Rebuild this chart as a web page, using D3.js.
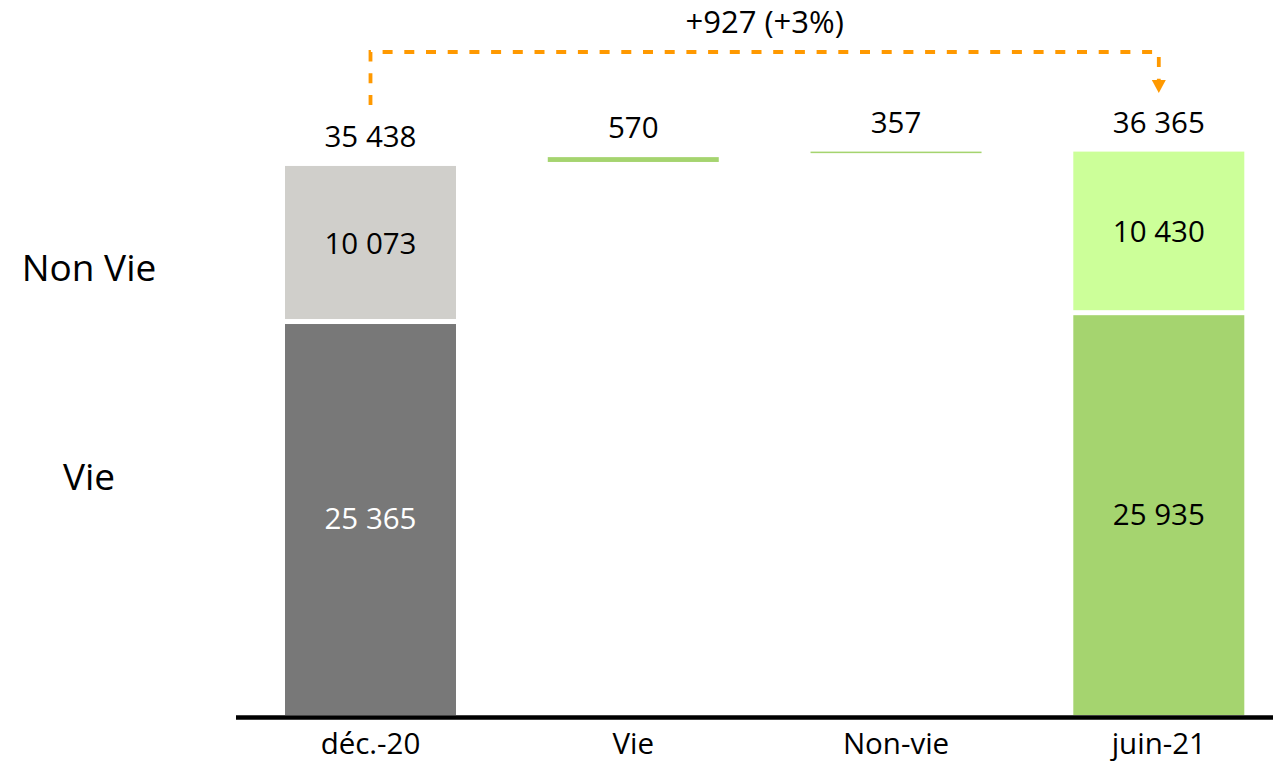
<!DOCTYPE html>
<html><head><meta charset="utf-8">
<script src="https://cdn.jsdelivr.net/npm/d3@7"></script>
<style>body{margin:0;background:#fff}svg{display:block}text{font-family:"Open Sans",sans-serif}</style>
</head><body><svg id="c" width="1273" height="763"></svg>
<script>
// ---- data ----
const categories = ["déc.-20", "Vie", "Non-vie", "juin-21"];
const vieValues = [25365, null, null, 25935];
const nonVieValues = [10073, null, null, 10430];
const deltaValues = [null, 570, 357, null];
const totalLabels = ["35 438", "570", "357", "36 365"];
const segLabelsVie = ["25 365", null, null, "25 935"];
const segLabelsNonVie = ["10 073", null, null, "10 430"];
const rowLabels = ["Non Vie", "Vie"];
const changeLabel = "+927 (+3%)";

const svg = d3.select("#c");
const x = d3.scalePoint().domain(categories).range([370.5, 1158.8]);
const bw = 171;
const y = d3.scaleLinear().domain([0, 36365]).range([715, 151.6]);

const colVie = ["#787878", null, null, "#a5d46f"];
const colNon = ["#d0cfcb", null, null, "#ccff99"];
const deltaCol = "#a5d46f";
const fs = 29.5;

// stacked totals bars
categories.forEach((c, i) => {
  if (vieValues[i] == null) return;
  const v = vieValues[i], n = nonVieValues[i];
  svg.append("rect").attr("x", x(c) - bw/2).attr("width", bw)
    .attr("y", y(v) + 2).attr("height", y(0) - y(v) - 2).attr("fill", colVie[i]);
  svg.append("rect").attr("x", x(c) - bw/2).attr("width", bw)
    .attr("y", y(v + n)).attr("height", y(v) - y(v + n) - 3).attr("fill", colNon[i]);
  svg.append("text").attr("x", x(c)).attr("y", (y(v) + y(0))/2 + 10.5)
    .attr("text-anchor","middle").attr("font-size", fs)
    .attr("fill", i === 0 ? "#fff" : "#000").text(segLabelsVie[i]);
  svg.append("text").attr("x", x(c)).attr("y", (y(v) + y(v+n))/2 + 10)
    .attr("text-anchor","middle").attr("font-size", fs).attr("fill","#000").text(segLabelsNonVie[i]);
});

// delta bars
let running = vieValues[0] + nonVieValues[0];
categories.forEach((c, i) => {
  const d = deltaValues[i];
  if (d == null) return;
  const start = running, end = running + d;
  running = end;
  svg.append("rect").attr("x", x(c) - bw/2).attr("width", bw)
    .attr("y", y(end)).attr("height", Math.max(1.5, y(start) - y(end) - 4)).attr("fill", deltaCol);
});

// top labels
let run2 = 0;
categories.forEach((c, i) => {
  let top;
  if (vieValues[i] != null) { top = vieValues[i] + nonVieValues[i]; run2 = top; }
  else { run2 += deltaValues[i]; top = run2; }
  svg.append("text").attr("x", x(c)).attr("y", y(top) - 19)
    .attr("text-anchor","middle").attr("font-size", fs).attr("fill","#000").text(totalLabels[i]);
});

// axis line
svg.append("line").attr("x1", 236).attr("x2", 1273).attr("y1", 717.5).attr("y2", 717.5)
  .attr("stroke", "#000").attr("stroke-width", 4.5);
// category labels
svg.selectAll("text.cat").data(categories).join("text").attr("class","cat")
  .attr("x", d => x(d)).attr("y", 754).attr("text-anchor","middle")
  .attr("font-size", fs).attr("fill","#000").text(d => d);

// row labels
svg.append("text").attr("x", 89).attr("y", 281).attr("text-anchor","middle")
  .attr("font-size", 37).attr("fill","#000").text(rowLabels[0]);
svg.append("text").attr("x", 89).attr("y", 490).attr("text-anchor","middle")
  .attr("font-size", 37).attr("fill","#000").text(rowLabels[1]);

// change annotation
const x0 = x(categories[0]), x1 = x(categories[3]);
svg.append("path").attr("d", `M${x0},105 V52 H${x1} V80`)
  .attr("fill","none").attr("stroke","#ff9900").attr("stroke-width", 3.8)
  .attr("stroke-dasharray","10,11.7");
svg.append("path").attr("d", `M${x1-7},80 L${x1+7},80 L${x1},93 Z`).attr("fill","#ff9900");
svg.append("text").attr("x", (x0 + x1)/2).attr("y", 33).attr("text-anchor","middle")
  .attr("font-size", 31).attr("fill","#000").text(changeLabel);
</script></body></html>
